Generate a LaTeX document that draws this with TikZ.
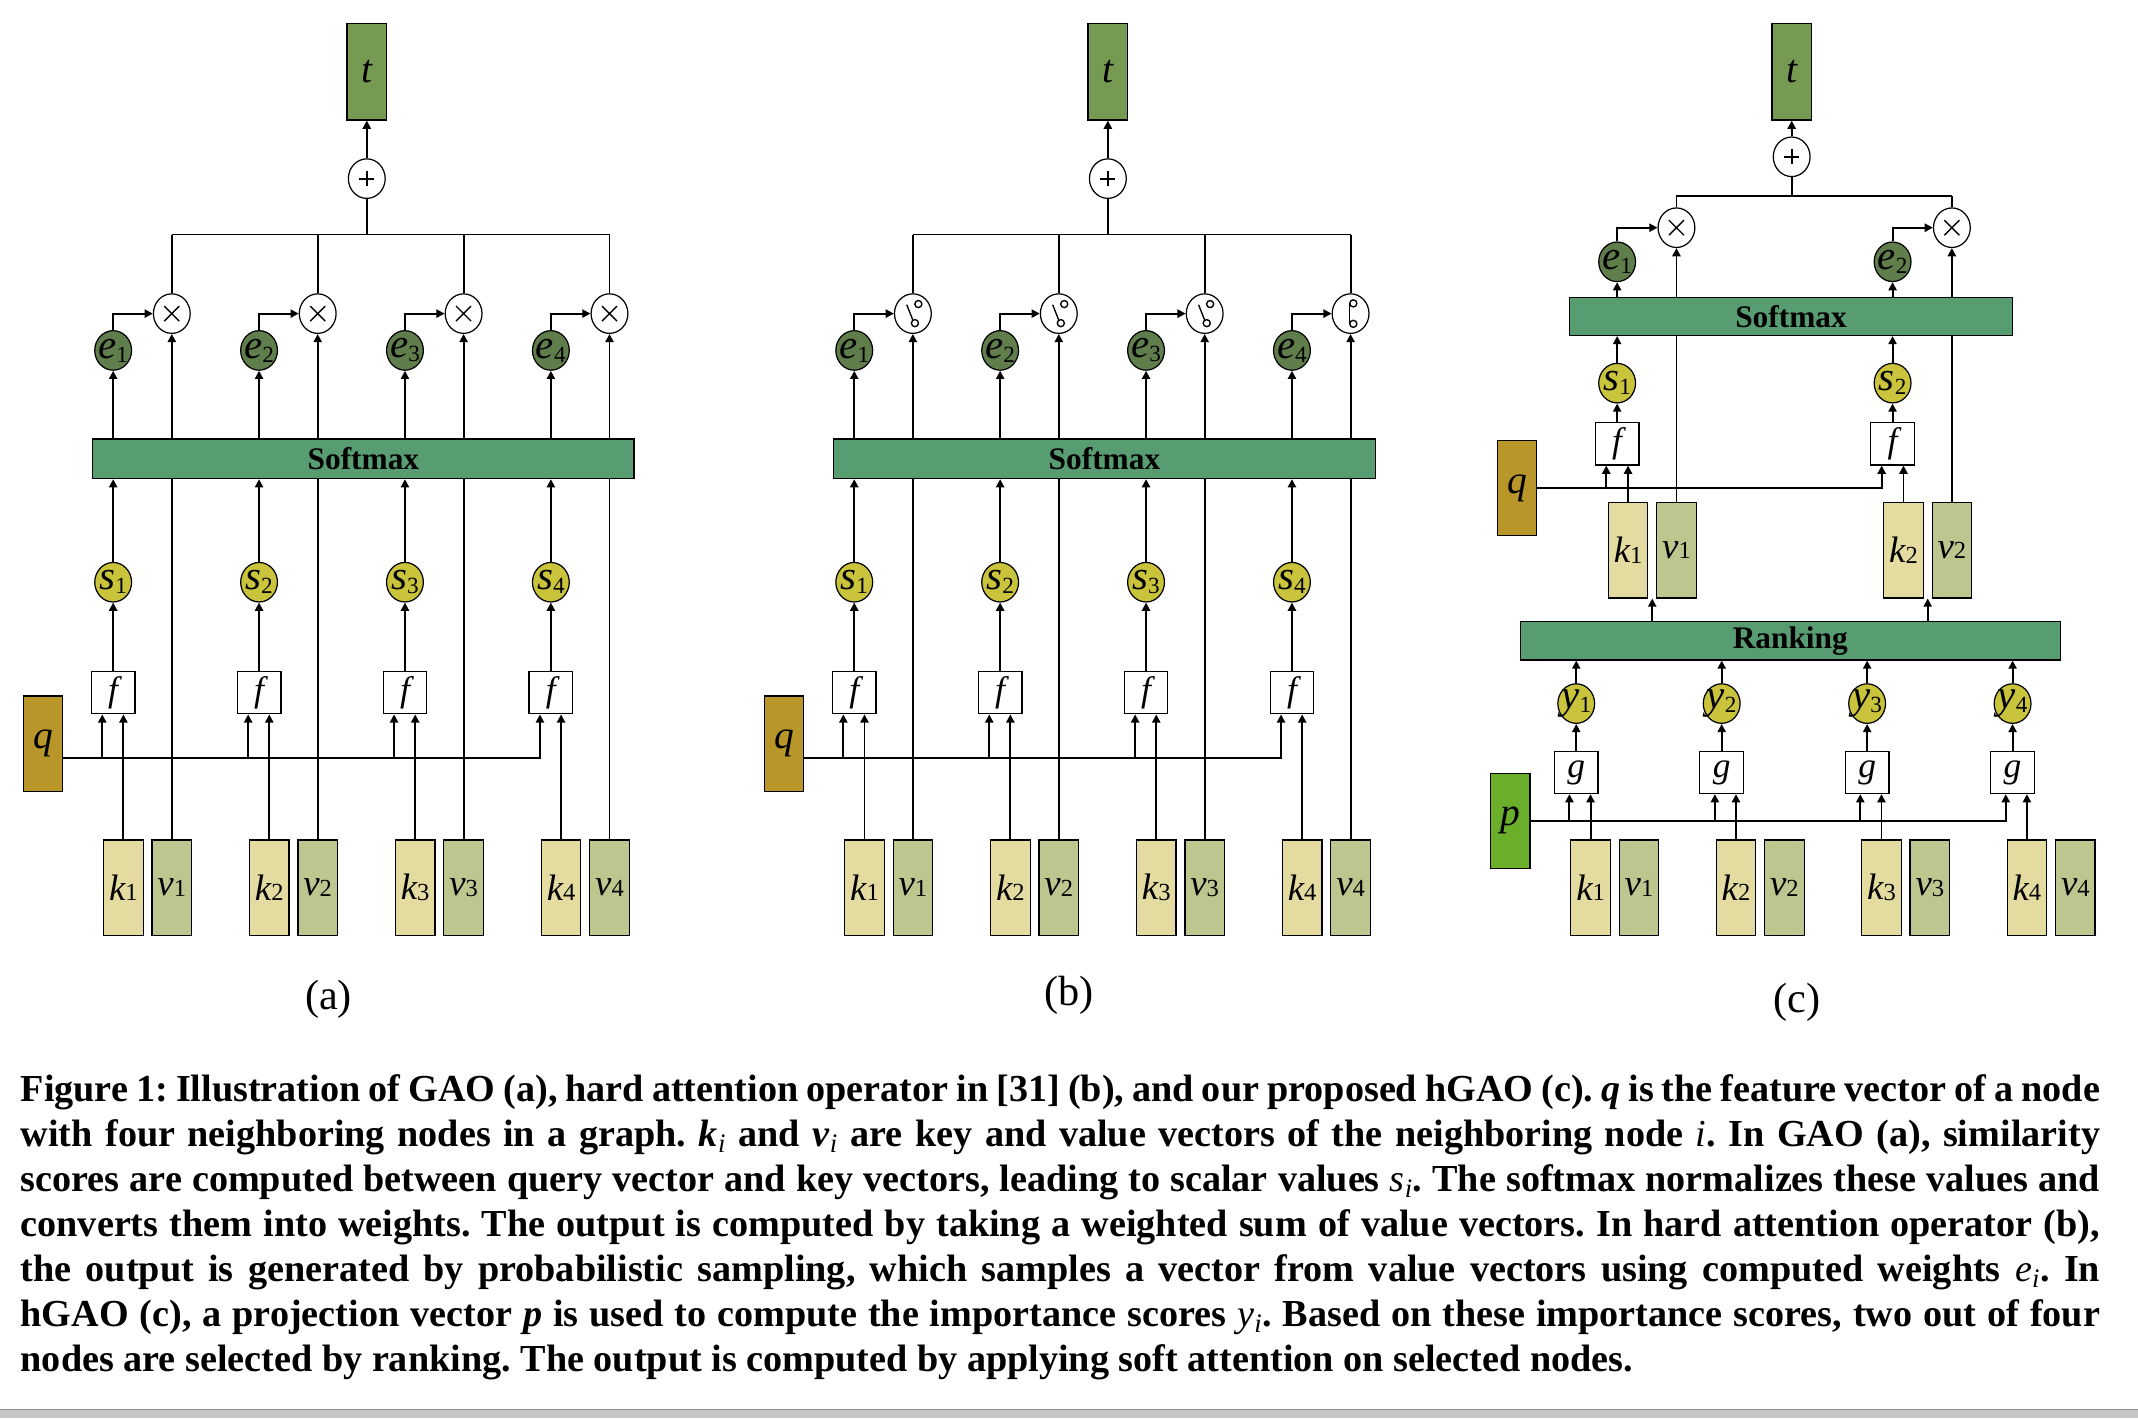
\documentclass[tikz,border=0pt]{standalone}
\usepackage{fontspec}
\setmainfont{Liberation Serif}
\usetikzlibrary{arrows.meta,shapes.geometric,calc}
\definecolor{tcol}{RGB}{119,154,82}
\definecolor{barcol}{RGB}{88,157,114}
\definecolor{ecol}{RGB}{96,125,76}
\definecolor{scol}{RGB}{201,196,60}
\definecolor{qcol}{RGB}{184,150,42}
\definecolor{pcol}{RGB}{106,174,42}
\definecolor{kcol}{RGB}{227,219,160}
\definecolor{vcol}{RGB}{189,198,143}
\newcommand\tvar[1]{{\fontsize{29}{29}\selectfont\itshape #1}}
\newcommand\cvar[2]{{\fontsize{30}{30}\selectfont\itshape #1}\raisebox{-3pt}{\fontsize{17}{17}\selectfont #2}}
\newcommand\bvar[2]{{\fontsize{27}{27}\selectfont\itshape #1}\raisebox{-0.5pt}{\fontsize{18}{18}\selectfont #2}}
\newcommand\fvar[1]{{\fontsize{26}{26}\selectfont\itshape #1}}
\newcommand\lsub[2]{{\mdseries\itshape #1}\textsubscript{\mdseries\itshape #2}}
\frenchspacing
\begin{document}
\begin{tikzpicture}[x=1pt,y=-1pt,
  conn/.style={line width=1.4pt},
  arr/.style={conn,-{Triangle[length=6pt,width=6pt]}},
  vecbox/.style={draw,line width=0.9pt,minimum width=29pt,minimum height=70pt,inner sep=0pt},
  tbox/.style={vecbox,fill=tcol,minimum height=71pt},
  qbox/.style={vecbox,fill=qcol},
  pbox/.style={vecbox,fill=pcol},
  kbox/.style={vecbox,fill=kcol},
  vbox/.style={vecbox,fill=vcol},
  circ/.style={ellipse,draw,line width=0.9pt,minimum width=27pt,minimum height=29pt,inner sep=-7pt},
  ecirc/.style={circ,fill=ecol},
  scirc/.style={circ,fill=scol},
  opc/.style={circ,fill=white},
  fbox/.style={draw,fill=white,line width=0.9pt,minimum width=32pt,minimum height=31pt,inner sep=0pt},
  bar/.style={draw,line width=0.9pt,fill=barcol,inner sep=0pt,font=\fontsize{23}{23}\selectfont\bfseries},
  sublab/.style={font=\fontsize{31}{31}\selectfont},
  capt/.style={inner sep=0pt,font=\fontsize{28}{33}\selectfont\bfseries},
  sym/.style={line width=1pt}
]
\useasboundingbox (0,0) rectangle (1568,1040);
\fill[white] (0,0) rectangle (1568,1040);

% ---------------- panels (a) and (b)
\foreach \P/\dx in {a/0,b/543.5}{
\begin{scope}[xshift=\dx pt]
  \node[tbox] (\P-t) at (269,52.5) {\tvar{t}};
  \node[opc] (\P-p) at (269,131) {};
  \coordinate (\P-bus) at (269,172);
  \node[qbox] (\P-q) at (31.5,545.5) {\tvar{q}};
  \foreach \i in {1,...,4}{
    \pgfmathsetmacro\cx{83+107*(\i-1)}
    \node[ecirc] (\P-e\i) at (\cx,257) {\cvar{e}{\i}};
    \node[opc] (\P-o\i) at (\cx+43,230) {};
    \node[scirc] (\P-s\i) at (\cx,427) {\cvar{s}{\i}};
    \node[fbox] (\P-f\i) at (\cx,508) {\fvar{f}};
    \node[kbox] (\P-k\i) at (\cx+7.5,651) {\bvar{k}{\i}};
    \node[vbox] (\P-v\i) at (\cx+43,651) {\bvar{v}{\i}};
    \coordinate (\P-fi\i) at ($(\P-f\i.south)+(-8,0)$);
  }
  \draw[arr] (\P-p) -- (\P-t);
  \draw[conn] (\P-p) -- (\P-bus);
  \draw[conn] (\P-o1 |- \P-bus) -- (\P-o4 |- \P-bus);
  \foreach \i in {1,...,4}{
    \draw[conn] (\P-o\i) -- (\P-o\i |- \P-bus);
    \draw[arr] (\P-e\i) |- (\P-o\i);
    \draw[arr] (\P-v\i) -- (\P-o\i);
  }
  \node[bar,minimum width=397pt,minimum height=29pt] (\P-sm) at (266.5,336.5) {Softmax};
  \coordinate (\P-qo) at ($(\P-q.east)+(0,10.5)$);
  \draw[arr] (\P-qo) -| (\P-fi4);
  \foreach \i in {1,...,4}{
    \draw[arr] (\P-sm.north -| \P-e\i) -- (\P-e\i);
    \draw[arr] (\P-s\i) -- (\P-sm.south -| \P-s\i);
    \draw[arr] (\P-f\i) -- (\P-s\i);
    \draw[arr] (\P-k\i) -- (\P-k\i |- \P-f\i.south);
  }
  \foreach \i in {1,2,3}{
    \draw[arr] (\P-fi\i |- \P-qo) -- (\P-fi\i);
  }
  \draw[sym,line width=1.3pt] ($(\P-p)+(-5.5,0)$) -- ($(\P-p)+(5.5,0)$) ($(\P-p)+(0,-5.5)$) -- ($(\P-p)+(0,5.5)$);
\end{scope}
}
% multiply symbols in (a)
\foreach \i in {1,...,4}{
  \draw[sym] ($(a-o\i)+(-5.5,-5.5)$) -- ($(a-o\i)+(5.5,5.5)$) ($(a-o\i)+(-5.5,5.5)$) -- ($(a-o\i)+(5.5,-5.5)$);
}
% switch symbols in (b)
\foreach \i in {1,2,3}{
  \draw[sym] ($(b-o\i)+(4,-7)$) circle (2.6pt) ($(b-o\i)+(1.5,7)$) circle (2.6pt);
  \draw[sym] ($(b-o\i)+(0,4.8)$) -- ($(b-o\i)+(-4.5,-6.5)$);
}
\draw[sym] ($(b-o4)+(2,-7.5)$) circle (2.6pt) ($(b-o4)+(2,7.5)$) circle (2.6pt);
\draw[sym] ($(b-o4)+(-0.6,-7.5)$) -- ($(b-o4)+(-0.6,7.5)$);

\node[sublab] (a-lab) at (241,733) {(a)};
\node[sublab] (b-lab) at (784,730) {(b)};

% ---------------- panel (c)
\node[tbox] (c-t) at (1314,52.5) {\tvar{t}};
\node[opc] (c-p) at (1314,115) {};
\coordinate (c-bus) at (1314,144);
\node[opc] (c-o1) at (1229.5,167) {};
\node[opc] (c-o2) at (1431.5,167) {};
\node[ecirc] (c-e1) at (1186,192) {\cvar{e}{1}};
\node[ecirc] (c-e2) at (1388,192) {\cvar{e}{2}};
\node[scirc] (c-s1) at (1186,281) {\cvar{s}{1}};
\node[scirc] (c-s2) at (1388,281) {\cvar{s}{2}};
\node[fbox] (c-f1) at (1186,325.5) {\fvar{f}};
\node[fbox] (c-f2) at (1388,325.5) {\fvar{f}};
\node[qbox] (c-q) at (1112.5,358) {\tvar{q}};
\node[kbox] (c-k1) at (1194,403.5) {\bvar{k}{1}};
\node[vbox] (c-v1) at (1229.5,403.5) {\bvar{v}{1}};
\node[kbox] (c-k2) at (1396,403.5) {\bvar{k}{2}};
\node[vbox] (c-v2) at (1431.5,403.5) {\bvar{v}{2}};
\node[bar,minimum width=396pt,minimum height=28pt] (c-rk) at (1313,470) {Ranking};
\foreach \i in {1,...,4}{
  \pgfmathsetmacro\gx{1156+106.67*(\i-1)}
  \node[scirc] (c-y\i) at (\gx,516) {\cvar{y}{\i}};
  \node[fbox] (c-g\i) at (\gx,566.5) {\fvar{g}};
  \node[kbox] (c-bk\i) at (\gx+10.5,651) {\bvar{k}{\i}};
  \node[vbox] (c-bv\i) at (\gx+46,651) {\bvar{v}{\i}};
  \coordinate (c-gi\i) at ($(c-g\i.south)+(-5,0)$);
}
\node[pbox] (c-pp) at (1107.5,602) {\tvar{p}};
\coordinate (c-fi1) at ($(c-f1.south)+(-8,0)$);
\coordinate (c-fi2) at ($(c-f2.south)+(-8,0)$);
\coordinate (c-kv1) at ($(c-k1.south east)!0.5!(c-v1.south west)$);
\coordinate (c-kv2) at ($(c-k2.south east)!0.5!(c-v2.south west)$);

\draw[arr] (c-p) -- (c-t);
\draw[conn] (c-p) -- (c-bus);
\draw[conn] (c-o1 |- c-bus) -- (c-o2 |- c-bus);
\foreach \i in {1,2}{
  \draw[conn] (c-o\i) -- (c-o\i |- c-bus);
  \draw[arr] (c-e\i) |- (c-o\i);
  \draw[arr] (c-v\i) -- (c-o\i);
}
\node[bar,minimum width=325pt,minimum height=28pt] (c-sm) at (1313.5,232) {Softmax};
\foreach \i in {1,2}{
  \draw[arr] (c-sm.north -| c-e\i) -- (c-e\i);
  \draw[arr] (c-s\i) -- (c-sm.south -| c-s\i);
  \draw[arr] (c-f\i) -- (c-s\i);
  \draw[arr] (c-k\i) -- (c-k\i |- c-f\i.south);
  \draw[arr] (c-rk.north -| c-kv\i) -- (c-kv\i);
  \draw[sym] ($(c-o\i)+(-5.5,-5.5)$) -- ($(c-o\i)+(5.5,5.5)$) ($(c-o\i)+(-5.5,5.5)$) -- ($(c-o\i)+(5.5,-5.5)$);
}
\draw[arr] (c-q.east) -| (c-fi2);
\draw[arr] (c-fi1 |- c-q) -- (c-fi1);
\foreach \i in {1,...,4}{
  \draw[arr] (c-y\i) -- (c-rk.south -| c-y\i);
  \draw[arr] (c-g\i) -- (c-y\i);
  \draw[arr] (c-bk\i) -- (c-bk\i |- c-g\i.south);
}
\draw[arr] (c-pp.east) -| (c-gi4);
\foreach \i in {1,2,3}{
  \draw[arr] (c-gi\i |- c-pp) -- (c-gi\i);
}
\draw[sym,line width=1.3pt] ($(c-p)+(-5.5,0)$) -- ($(c-p)+(5.5,0)$) ($(c-p)+(0,-5.5)$) -- ($(c-p)+(0,5.5)$);
\node[sublab] (c-lab) at (1318,735) {(c)};

% ---------------- caption
\node[capt,anchor=base west] (cap1) at (15,808) {\makebox[1525pt][s]{Figure 1: Illustration of GAO (a), hard attention operator in [31] (b), and our proposed hGAO (c). \textit{q} is the feature vector of a node}};
\node[capt,anchor=base west] (cap2) at (15,841) {\makebox[1525pt][s]{with four neighboring nodes in a graph. \textit{k}\textsubscript{\mdseries\itshape i} and \textit{v}\textsubscript{\mdseries\itshape i} are key and value vectors of the neighboring node {\mdseries\itshape i}. In GAO (a), similarity}};
\node[capt,anchor=base west] (cap3) at (15,874) {\makebox[1525pt][s]{scores are computed between query vector and key vectors, leading to scalar values \lsub{s}{i}. The softmax normalizes these values and}};
\node[capt,anchor=base west] (cap4) at (15,907) {\makebox[1525pt][s]{converts them into weights. The output is computed by taking a weighted sum of value vectors. In hard attention operator (b),}};
\node[capt,anchor=base west] (cap5) at (15,940) {\makebox[1525pt][s]{the output is generated by probabilistic sampling, which samples a vector from value vectors using computed weights \lsub{e}{i}. In}};
\node[capt,anchor=base west] (cap6) at (15,973) {\makebox[1525pt][s]{hGAO (c), a projection vector \textit{p} is used to compute the importance scores \lsub{y}{i}. Based on these importance scores, two out of four}};
\node[capt,anchor=base west] (cap7) at (15,1006) {nodes are selected by ranking. The output is computed by applying soft attention on selected nodes.};

% bottom strip
\fill[black!22] (0,1034) rectangle (1568,1040);
\draw[black!45,line width=0.8pt] (0,1034) -- (1568,1034);
\end{tikzpicture}
\end{document}
